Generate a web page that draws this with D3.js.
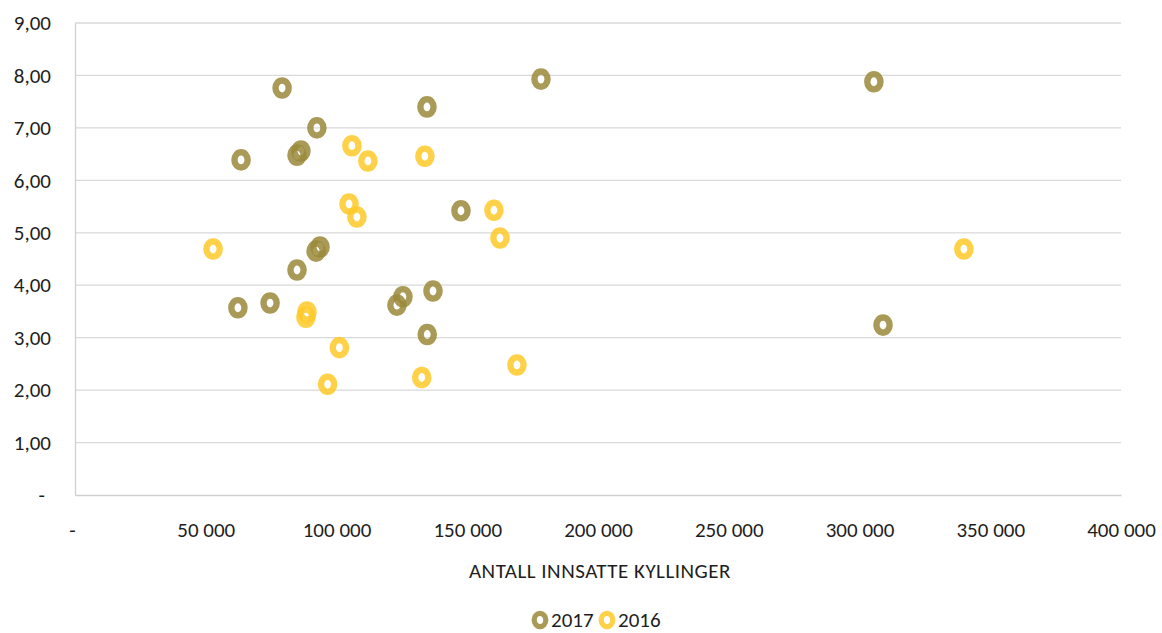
<!DOCTYPE html>
<html>
<head>
<meta charset="utf-8">
<script src="https://cdn.jsdelivr.net/npm/d3@7"></script>
<style>
  html, body { margin: 0; padding: 0; background: #fff; }
  svg text { font-family: Carlito, Lato, "Open Sans", sans-serif; fill: #1e1e1e; }
</style>
</head>
<body>
<svg id="chart" width="1162" height="633"></svg>
<script>
// Antall innsatte kyllinger (x) mot verdi (y), 2017 og 2016
const series2017X = [79200, 63500, 84900, 86400, 92500, 134600, 178200, 305500, 147600, 93700, 92200, 84900, 62300, 74600, 123100, 125400, 136900, 134700, 309000];
const series2017Y = [7.76, 6.39, 6.48, 6.56, 7.00, 7.40, 7.93, 7.88, 5.42, 4.73, 4.65, 4.29, 3.57, 3.66, 3.62, 3.78, 3.89, 3.06, 3.24];

const series2016X = [52800, 105900, 112000, 133800, 104800, 107800, 160200, 162500, 88700, 88300, 101100, 96600, 132600, 169000, 339900];
const series2016Y = [4.69, 6.66, 6.37, 6.46, 5.55, 5.30, 5.43, 4.90, 3.49, 3.39, 2.81, 2.11, 2.24, 2.48, 4.69];

const xTicks = [0, 50000, 100000, 150000, 200000, 250000, 300000, 350000, 400000];
const yTicks = [0, 1, 2, 3, 4, 5, 6, 7, 8, 9];
const seriesNames = ["2017", "2016"];
const xTitle = "ANTALL INNSATTE KYLLINGER";

const colors = { "2017": "#9a8a3a", "2016": "#ffc928" };

const svg = d3.select("#chart");
const margin = { left: 75, right: 41, top: 23, bottom: 138 };
const W = 1162, H = 633;
const fontSize = "21px";

const x = d3.scaleLinear().domain([0, 400000]).range([margin.left, W - margin.right]);
const y = d3.scaleLinear().domain([0, 9]).range([H - margin.bottom, margin.top]);

const fmtX = v => v === 0 ? "-" : d3.format(",")(v).replace(/,/g, " ");
const fmtY = v => v === 0 ? "-" : v.toFixed(2).replace(".", ",");

// horizontal gridlines
svg.append("g")
  .selectAll("line")
  .data(yTicks.filter(d => d > 0))
  .join("line")
  .attr("x1", x.range()[0]).attr("x2", x.range()[1])
  .attr("y1", d => y(d)).attr("y2", d => y(d))
  .attr("stroke", "#d9d9d9").attr("stroke-width", 1.3);

// axes
const yAxis = svg.append("g")
  .attr("transform", `translate(${margin.left},0)`)
  .call(d3.axisLeft(y).tickValues(yTicks).tickFormat(fmtY).tickSize(0).tickPadding(24));
yAxis.select(".domain").attr("stroke", "#d0d0d0").attr("stroke-width", 1.3);
yAxis.selectAll("text").style("font-size", fontSize).attr("fill", "#1e1e1e");
yAxis.selectAll("text").filter(d => d === 0).attr("dx", -6);

const xAxis = svg.append("g")
  .attr("transform", `translate(0,${y(0)})`)
  .call(d3.axisBottom(x).tickValues(xTicks).tickFormat(fmtX).tickSize(0).tickPadding(27));
xAxis.select(".domain").attr("stroke", "#d0d0d0").attr("stroke-width", 1.3);
xAxis.selectAll("text").style("font-size", fontSize).attr("fill", "#1e1e1e");
xAxis.selectAll("text").filter(d => d === 0).attr("dx", -3);

// axis title
svg.append("text")
  .attr("x", 600)
  .attr("y", 578)
  .attr("text-anchor", "middle")
  .style("font-size", fontSize)
  .style("letter-spacing", "0.5px")
  .text(xTitle);

// ring markers, slightly taller than wide
function drawSeries(name, xs, ys) {
  svg.append("g")
    .selectAll("ellipse")
    .data(xs.map((v, i) => [v, ys[i]]))
    .join("ellipse")
    .attr("cx", d => x(d[0]))
    .attr("cy", d => y(d[1]))
    .attr("rx", 6.6)
    .attr("ry", 7.6)
    .attr("fill", "none")
    .attr("stroke", colors[name])
    .attr("stroke-width", 6.4)
    .attr("stroke-opacity", 0.85);
}
drawSeries("2016", series2016X, series2016Y);
drawSeries("2017", series2017X, series2017Y);

// legend
const legend = svg.append("g").attr("transform", "translate(540,620)");
const items = [
  { name: seriesNames[0], dx: 0 },
  { name: seriesNames[1], dx: 67 }
];
items.forEach(it => {
  const g = legend.append("g").attr("transform", `translate(${it.dx},0)`);
  g.append("ellipse").attr("rx", 5.8).attr("ry", 6.6).attr("fill", "none")
    .attr("stroke", colors[it.name]).attr("stroke-width", 5.2).attr("stroke-opacity", 0.85);
  g.append("text").attr("x", 11).attr("y", 7).style("font-size", fontSize).text(it.name);
});
</script>
</body>
</html>
